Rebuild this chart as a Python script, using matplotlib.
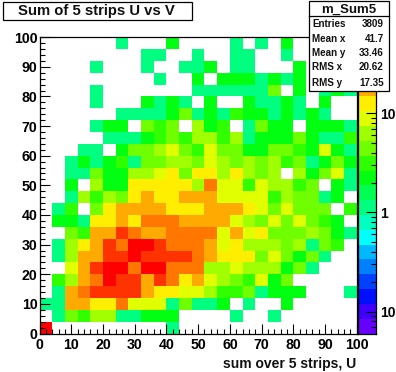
import numpy as np
import matplotlib
matplotlib.use("Agg")
import matplotlib.pyplot as plt
from matplotlib.colors import ListedColormap, BoundaryNorm
from matplotlib.patches import Rectangle
from matplotlib.ticker import MultipleLocator

plt.rcParams['font.family'] = ['Liberation Sans', 'DejaVu Sans']
plt.rcParams['font.weight'] = 'bold'

title = "Sum of 5 strips U vs V"
xlabel = "sum over 5 strips, U"
stats_name = "m_Sum5"
stats_labels = ["Entries", "Mean x", "Mean y", "RMS x", "RMS y"]
stats_values = ["3809", "41.7", "33.46", "20.62", "17.35"]

palette = ["#6600ff", "#4000ff", "#0010ff", "#0040ff", "#0080ff", "#00b8ff", "#00ffff",
           "#00ffc0", "#00ff80", "#00ff50", "#00ff10", "#30ff00", "#70ff00", "#a0ff00",
           "#e0ff00", "#ffee00", "#ffaa00", "#ff7700", "#ff3300", "#ff0000"]
zmin, zmax = 0.06, 58.7

# counts per 4x4 bin, rows listed from V=96-100 down to V=0-4, columns U=0..100
counts = [
 [0,0,0,0,0,0,1,0,0,0,2,0,0,0,0,1,0,1,0,2,0,0,0,0,0],
 [0,0,0,0,0,0,0,0,1,1,0,0,1,0,0,1,1,0,0,1,0,0,0,0,0],
 [0,0,0,0,1,0,0,0,1,0,0,1,1,2,0,1,1,0,0,0,2,0,0,0,0],
 [0,0,0,0,0,0,0,0,0,1,0,0,2,0,2,2,2,1,2,1,2,0,0,0,0],
 [0,0,0,0,1,0,0,0,0,0,0,0,1,1,1,1,1,1,5,0,2,0,1,2,1],
 [0,0,0,0,1,0,0,0,2,1,2,1,0,2,0,0,2,1,1,2,1,0,2,0,0],
 [0,0,0,0,0,0,1,1,1,1,2,5,1,2,1,3,2,2,1,2,1,2,1,0,0],
 [0,0,0,0,1,2,2,0,5,3,5,0,7,2,3,0,1,5,2,2,0,2,2,2,1],
 [0,0,0,0,0,1,1,1,2,3,5,3,7,7,3,7,1,2,2,2,5,2,1,1,3],
 [0,0,0,1,1,0,2,5,5,7,9,5,3,9,5,5,2,2,5,5,3,2,9,2,1],
 [0,0,1,2,1,2,3,1,5,5,7,7,5,9,7,5,7,5,7,3,5,1,2,5,2],
 [0,0,1,1,5,2,2,7,7,9,12,5,12,12,7,12,7,5,7,0,7,2,5,9,1],
 [0,0,2,0,7,2,2,12,12,12,12,12,7,25,9,9,3,9,7,7,3,5,0,2,1],
 [0,0,1,7,3,7,5,12,17,12,12,17,17,17,9,9,9,9,3,7,5,5,1,2,0],
 [0,1,3,0,5,12,17,17,17,17,12,12,12,17,17,17,12,9,5,9,5,5,5,0,3],
 [0,2,2,1,12,12,17,12,25,25,25,17,17,17,17,9,7,5,9,5,9,5,3,2,0],
 [0,0,5,3,17,17,35,25,17,17,25,25,25,25,9,17,9,12,5,5,5,7,5,2,1],
 [0,1,7,12,17,35,25,45,45,35,25,25,25,17,9,12,7,7,7,5,7,1,5,3,0],
 [0,1,7,17,17,35,35,45,35,35,35,35,25,17,12,12,12,5,9,5,2,5,1,0,0],
 [0,0,9,17,35,45,45,25,45,45,25,25,25,7,7,9,7,7,7,2,5,1,0,0,0],
 [0,3,7,17,25,45,35,35,17,35,25,12,17,9,7,5,3,9,2,5,0,0,0,0,0],
 [0,1,17,25,35,35,35,35,17,12,12,9,9,7,3,3,5,1,2,2,2,0,0,0,1],
 [1,1,17,17,12,12,25,9,9,9,1,5,1,1,2,0,1,0,0,2,0,0,0,0,0],
 [0,1,5,3,7,7,1,1,2,2,2,0,0,0,0,1,0,0,1,0,0,0,0,0,0],
 [45,0,0,0,0,0,0,0,0,0,1,0,0,0,0,0,0,0,0,0,0,0,0,0,0],
]

W, H = 396, 372
fig = plt.figure(figsize=(W / 100, H / 100), dpi=100, facecolor='white')

def axes_px(x0, y0, x1, y1):
    return fig.add_axes([x0 / W, 1 - y1 / H, (x1 - x0) / W, (y1 - y0) / H])

ax = axes_px(39.5, 37.2, 356.8, 333.5)
grid = np.array(counts, dtype=float)[::-1]
grid[grid == 0] = np.nan
edges = np.linspace(0, 100, 26)
bounds = np.logspace(np.log10(zmin), np.log10(zmax), len(palette) + 1)
cmap = ListedColormap(palette)
cmap.set_bad('white')
norm = BoundaryNorm(bounds, cmap.N)
ax.pcolormesh(edges, edges, grid, cmap=cmap, norm=norm, linewidth=0, antialiased=False)
ax.set_xlim(0, 100)
ax.set_ylim(0, 100)
ax.xaxis.set_major_locator(MultipleLocator(10))
ax.yaxis.set_major_locator(MultipleLocator(10))
ax.xaxis.set_minor_locator(MultipleLocator(2))
ax.yaxis.set_minor_locator(MultipleLocator(2))
ax.tick_params(which='major', direction='in', length=7.2, width=0.8, labelsize=10.2, pad=1.5)
ax.tick_params(axis='x', which='major', pad=3)
ax.tick_params(which='minor', direction='in', length=3.6, width=0.8)
ax.set_axisbelow(False)
for s in ax.spines.values():
    s.set_linewidth(0.9)
for lab in ax.get_xticklabels() + ax.get_yticklabels():
    lab.set_fontweight('bold')
fig.text(356.5 / W, 1 - 368 / H, xlabel, ha='right', va='baseline', fontsize=10,
         fontweight='bold', color='#111111')

# colour scale
cax = axes_px(357.8, 37.2, 376.3, 333.5)
cax.pcolormesh([0, 1], bounds, np.arange(len(palette)).reshape(-1, 1), cmap=cmap,
               vmin=-0.5, vmax=len(palette) - 0.5, linewidth=0, antialiased=False)
cax.set_yscale('log')
cax.set_ylim(zmin, zmax)
cax.set_xticks([])
cax.yaxis.tick_right()
cax.set_yticks([0.1, 1, 10])
cax.set_yticks([m * d for d in (0.01, 0.1, 1, 10) for m in range(2, 10)
                if zmin < m * d < zmax], minor=True)
cax.set_yticklabels(['10', '1', '10'])
cax.tick_params(which='major', direction='in', length=7.2, width=0.8, labelsize=10, pad=3)
cax.tick_params(which='minor', direction='in', length=3.6, width=0.8, labelright=False)
for s in cax.spines.values():
    s.set_linewidth(0.9)

def px_rect(x0, y0, x1, y1):
    return Rectangle((x0 / W, 1 - y1 / H), (x1 - x0) / W, (y1 - y0) / H,
                     transform=fig.transFigure, fc='white', ec='black', lw=0.9, zorder=10)

fig.add_artist(px_rect(3.3, 1.5, 191.7, 20))
fig.text(96 / W, 1 - 11 / H, title, ha='center', va='center', fontsize=10.7,
         fontweight='bold', color='#111111', zorder=11)

fig.add_artist(px_rect(308.5, 1.5, 388.7, 91.3))
fig.add_artist(plt.Line2D([308.5 / W, 388.7 / W], [1 - 16.3 / H] * 2, transform=fig.transFigure,
                          color='black', lw=0.9, zorder=11))
fig.text(348.5 / W, 1 - 10 / H, stats_name, ha='center', va='center', fontsize=9.5,
         fontweight='bold', color='#111111', zorder=11)
rows_y = [24, 39, 53, 67, 83]
for y, lab, val in zip(rows_y, stats_labels, stats_values):
    fig.text(312.3 / W, 1 - y / H, lab, ha='left', va='center', fontsize=7.1,
             fontweight='bold', color='#111111', zorder=11)
    fig.text(383.8 / W, 1 - y / H, val, ha='right', va='center', fontsize=7.1,
             fontweight='bold', color='#111111', zorder=11)

fig.savefig('out.png', dpi=100, facecolor='white')
